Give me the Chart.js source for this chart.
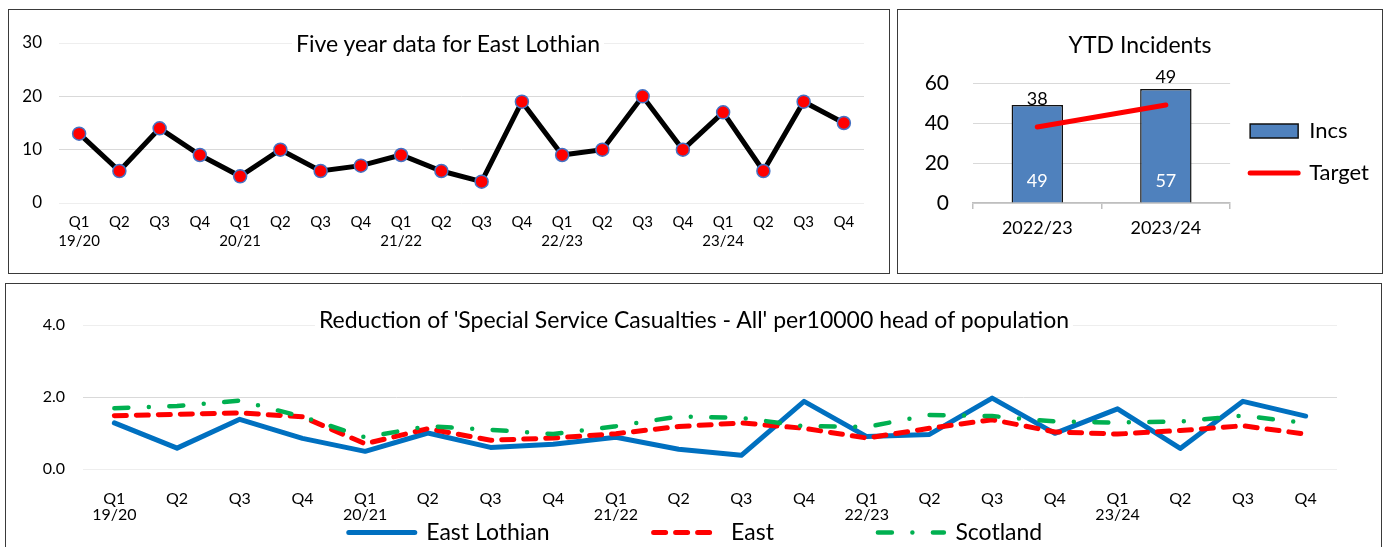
<!DOCTYPE html>
<html>
<head>
<meta charset="utf-8">
<script src="https://cdn.jsdelivr.net/npm/chart.js@4.4.1/dist/chart.umd.min.js"></script>
<style>
  html, body { margin: 0; padding: 0; background: #fff; }
  body { width: 1387px; height: 547px; position: relative; overflow: hidden; font-family: Lato, sans-serif; }
  .panel { position: absolute; border: 1.5px solid #3a3a3a; box-sizing: border-box; }
  canvas { position: absolute; }
  .title { position: absolute; transform: translate(-50%, -50%); background: #fff; padding: 0 4px;
           white-space: nowrap; line-height: 1; color: #000; z-index: 2; }
</style>
</head>
<body>

<div class="panel" style="left:8px; top:9px; width:882px; height:265px;"></div>
<div class="panel" style="left:897px; top:9px; width:486px; height:265px;"></div>
<div class="panel" style="left:5px; top:283px; width:1377px; height:280px;"></div>

<canvas id="fiveYear" width="879" height="262" style="left:9px; top:10px;"></canvas>
<canvas id="ytd" width="483" height="262" style="left:898px; top:10px;"></canvas>
<canvas id="reduction" width="1375" height="263" style="left:6px; top:284px;"></canvas>

<div class="title" style="left:448px; top:43px; font-size:23px;">Five year data for East Lothian</div>
<div class="title" style="left:1140px; top:44px; font-size:23px;">YTD Incidents</div>
<div class="title" style="left:694px; top:319px; font-size:23px;">Reduction of 'Special Service Casualties - All' per10000 head of population</div>

<script>
// ==========================
// DATA
// ==========================

const quarterLabels = [
    "Q1", "Q2", "Q3", "Q4",
    "Q1", "Q2", "Q3", "Q4",
    "Q1", "Q2", "Q3", "Q4",
    "Q1", "Q2", "Q3", "Q4",
    "Q1", "Q2", "Q3", "Q4"
];
const yearLabels = [
    "19/20", "", "", "",
    "20/21", "", "", "",
    "21/22", "", "", "",
    "22/23", "", "", "",
    "23/24", "", "", ""
];

const fiveYearIncidents = [13, 6, 14, 9, 5, 10, 6, 7, 9, 6, 4, 19, 9, 10, 20, 10, 17, 6, 19, 15];

const ytdYears = ["2022/23", "2023/24"];
const ytdIncs = [49, 57];
const ytdTarget = [38, 49];

const eastLothianRate = [1.28, 0.58, 1.38, 0.85, 0.49, 1.0, 0.6, 0.69, 0.88, 0.55, 0.38, 1.88, 0.9, 0.96, 1.97, 0.99, 1.67, 0.57, 1.88, 1.47];
const eastRate = [1.48, 1.52, 1.56, 1.45, 0.7, 1.12, 0.8, 0.86, 0.98, 1.18, 1.28, 1.13, 0.86, 1.13, 1.37, 1.03, 0.97, 1.07, 1.2, 0.97];
const scotlandRate = [1.69, 1.75, 1.9, 1.45, 0.88, 1.19, 1.09, 0.97, 1.19, 1.46, 1.42, 1.19, 1.17, 1.5, 1.47, 1.32, 1.29, 1.32, 1.48, 1.28];

const quarterTicks = quarterLabels.map((q, i) => yearLabels[i] ? [q, yearLabels[i]] : q);

Chart.defaults.font.family = "Lato";
Chart.defaults.color = "#000";
Chart.defaults.animation = false;

const faintEnds = ctx => {
    const n = ctx.scale.ticks.length;
    return (ctx.index === 0 || ctx.index === n - 1) ? "#EEEEEE" : "#D9D9D9";
};

// legend samples straight from the dataset line styles
const lineLegendItems = (chart, styles) =>
    chart.data.datasets.map((ds, i) => ({
        text: ds.label,
        datasetIndex: i,
        fillStyle: ds.backgroundColor,
        strokeStyle: ds.borderColor,
        lineWidth: ds.borderWidth,
        lineDash: ds.borderDash || [],
        lineCap: "round",
        pointStyle: styles[i],
        fontColor: "#000",
        hidden: false
    }));

// move the drawn legend without touching the plot area
const legendShift = {
    id: "legendShift",
    afterLayout(chart, args, opts) {
        const lg = chart.legend;
        const pad = lg.options.labels.padding;
        if (opts.itemTop !== undefined) lg.top = opts.itemTop - pad;
        if (opts.dx) { lg.left += opts.dx; lg.right += opts.dx; }
    }
};


// ==========================
// FIVE YEAR LINE
// ==========================

new Chart(document.getElementById("fiveYear"), {
    type: "line",
    data: {
        labels: quarterTicks,
        datasets: [{
            label: "Incidents",
            data: fiveYearIncidents,
            borderColor: "#000",
            borderWidth: 5,
            tension: 0,
            pointRadius: 6.5,
            pointBackgroundColor: "#FF0000",
            pointBorderColor: "#4472C4",
            pointBorderWidth: 1.5
        }]
    },
    options: {
        responsive: false,
        layout: { padding: { left: 0, top: 33, right: 24, bottom: 0 } },
        plugins: { legend: { display: false }, tooltip: { enabled: false } },
        scales: {
            x: {
                offset: true,
                grid: { display: false },
                border: { display: false },
                ticks: { font: { size: 15, lineHeight: 1.23 }, padding: 2, maxRotation: 0, autoSkip: false },
                afterFit: s => { s.height = 69; }
            },
            y: {
                min: 0,
                max: 30,
                ticks: { stepSize: 10, font: { size: 17 }, padding: 17 },
                grid: { color: faintEnds, drawTicks: false },
                border: { display: false },
                afterFit: s => { s.width = 50; }
            }
        }
    }
});


// ==========================
// YTD BAR + TARGET
// ==========================

const ytdLabels = {
    id: "ytdLabels",
    afterDatasetsDraw(chart) {
        const { ctx } = chart;
        const y = chart.scales.y;
        const bars = chart.getDatasetMeta(0).data;
        ctx.save();
        ctx.font = "18px Lato";
        ctx.textAlign = "center";
        ctx.textBaseline = "middle";
        bars.forEach((bar, i) => {
            ctx.fillStyle = "#fff";
            ctx.fillText(ytdIncs[i], bar.x, y.getPixelForValue(0) - 22);
            ctx.fillStyle = "#000";
            ctx.fillText(ytdTarget[i], bar.x, y.getPixelForValue(ytdTarget[i]) - 28);
        });
        ctx.restore();
    }
};

new Chart(document.getElementById("ytd"), {
    type: "bar",
    data: {
        labels: ytdYears,
        datasets: [{
            label: "Incs",
            data: ytdIncs,
            backgroundColor: "#4F81BD",
            borderColor: "#111",
            borderWidth: 1.5,
            barPercentage: 0.4,
            categoryPercentage: 1,
            order: 1
        }, {
            type: "line",
            label: "Target",
            data: ytdTarget,
            borderColor: "#FF0000",
            backgroundColor: "#FF0000",
            borderWidth: 5,
            borderCapStyle: "round",
            pointRadius: 0,
            order: 0
        }]
    },
    options: {
        responsive: false,
        layout: { padding: { left: 0, top: 73, right: 2, bottom: 0 } },
        plugins: {
            tooltip: { enabled: false },
            legendShift: { itemTop: 110 },
            legend: {
                position: "right",
                align: "start",
                maxWidth: 170,
                labels: {
                    usePointStyle: true,
                    pointStyleWidth: 48,
                    boxHeight: 14,
                    padding: 20,
                    font: { size: 22 },
                    color: "#000",
                    generateLabels: chart => lineLegendItems(chart, ["rect", "line"])
                }
            }
        },
        scales: {
            x: {
                grid: { drawOnChartArea: false, drawTicks: true, tickLength: 6, color: "#BFBFBF", lineWidth: 1.5 },
                border: { display: true, color: "#BFBFBF", width: 1.5 },
                ticks: { font: { size: 18 }, padding: 8 },
                afterFit: s => { s.height = 69; }
            },
            y: {
                min: 0,
                max: 60,
                ticks: { stepSize: 20, font: { size: 21 }, padding: 24 },
                grid: { color: "#D9D9D9", drawTicks: false },
                border: { display: false },
                afterFit: s => { s.width = 75; }
            }
        }
    },
    plugins: [ytdLabels, legendShift]
});


// ==========================
// RATE PER 10000 POPULATION
// ==========================

new Chart(document.getElementById("reduction"), {
    type: "line",
    data: {
        labels: quarterTicks,
        datasets: [{
            label: "East Lothian",
            data: eastLothianRate,
            borderColor: "#0070C0",
            backgroundColor: "#0070C0",
            borderWidth: 5,
            borderCapStyle: "round",
            borderJoinStyle: "round",
            pointRadius: 0,
            order: 2
        }, {
            label: "East",
            data: eastRate,
            borderColor: "#FF0000",
            backgroundColor: "#FF0000",
            borderWidth: 5,
            borderDash: [12, 10],
            borderCapStyle: "round",
            pointRadius: 0,
            order: 1
        }, {
            label: "Scotland",
            data: scotlandRate,
            borderColor: "#00B050",
            backgroundColor: "#00B050",
            borderWidth: 4.5,
            borderDash: [14, 20.5, 0, 20.5],
            borderCapStyle: "round",
            pointRadius: 0,
            order: 0
        }]
    },
    options: {
        responsive: false,
        layout: { padding: { left: 0, top: 41, right: 44, bottom: 0 } },
        plugins: {
            tooltip: { enabled: false },
            legendShift: { itemTop: 237, dx: 24 },
            legend: {
                position: "bottom",
                maxHeight: 24,
                labels: {
                    usePointStyle: true,
                    pointStyleWidth: 66,
                    padding: 104,
                    font: { size: 23 },
                    color: "#000",
                    generateLabels: chart => lineLegendItems(chart, ["line", "line", "line"])
                }
            }
        },
        scales: {
            x: {
                offset: true,
                grid: { display: false },
                border: { display: false },
                ticks: { font: { size: 16, lineHeight: 1.05 }, padding: 13, maxRotation: 0, autoSkip: false },
                afterFit: s => { s.height = 54; }
            },
            y: {
                min: 0,
                max: 4,
                ticks: { stepSize: 2, font: { size: 16 }, padding: 18, callback: v => v.toFixed(1) },
                grid: { color: faintEnds, drawTicks: false },
                border: { display: false },
                afterFit: s => { s.width = 77; }
            }
        }
    },
    plugins: [legendShift]
});
</script>
</body>
</html>
